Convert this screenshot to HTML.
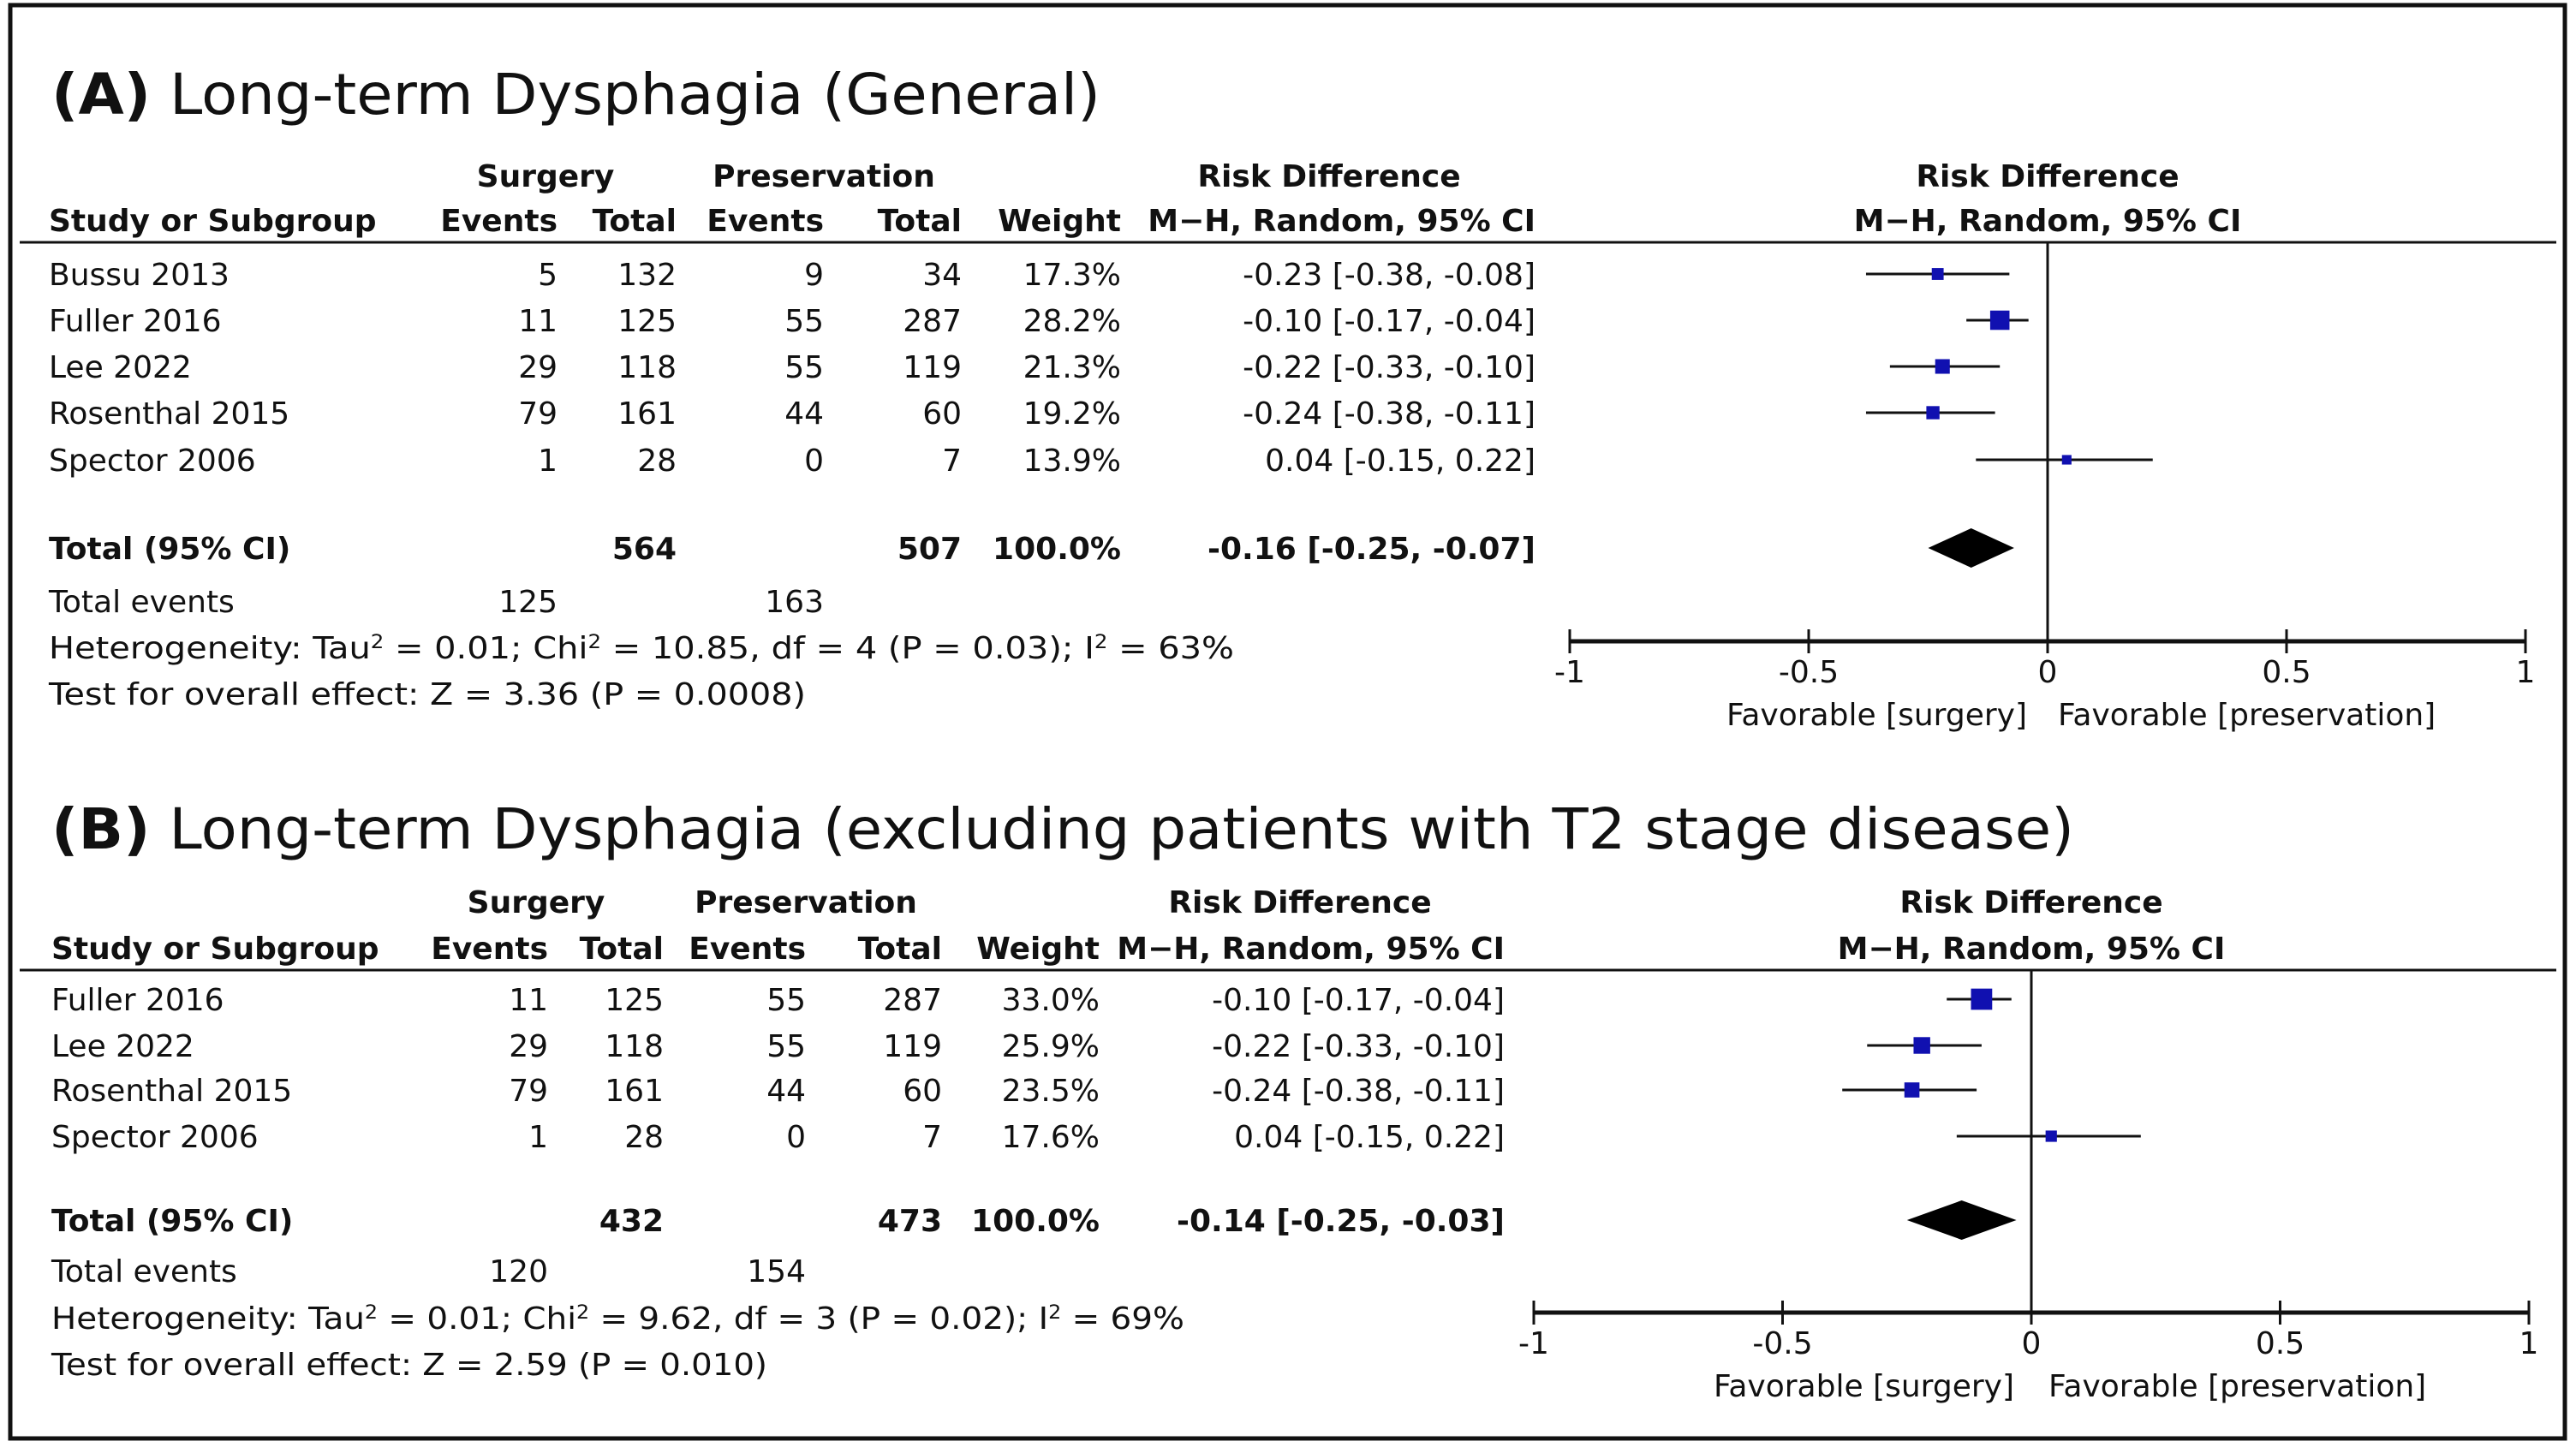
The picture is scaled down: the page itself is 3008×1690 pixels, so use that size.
<!DOCTYPE html>
<html><head><meta charset="utf-8"><style>
html,body{margin:0;padding:0;background:#fff;}
svg{display:block;}
text{font-family:"DejaVu Sans","Liberation Sans",sans-serif;fill:#111;}
.b{font-weight:bold;}
</style></head><body>
<svg id="fig" width="3008" height="1690" viewBox="0 0 3008 1690" xmlns="http://www.w3.org/2000/svg">
<rect x="12" y="6" width="2983" height="1674" fill="#fff" stroke="#111" stroke-width="5"/>
<g id="gA"></g>
<g id="gB"></g>
</svg>
<script>
// ---- Panel A data ----
const studiesA = ["Bussu 2013","Fuller 2016","Lee 2022","Rosenthal 2015","Spector 2006"];
const surgEventsA = [5,11,29,79,1];
const surgTotalA = [132,125,118,161,28];
const presEventsA = [9,55,55,44,0];
const presTotalA = [34,287,119,60,7];
const weightA = [17.3,28.2,21.3,19.2,13.9];
const rdA = [-0.23,-0.10,-0.22,-0.24,0.04];
const loA = [-0.38,-0.17,-0.33,-0.38,-0.15];
const hiA = [-0.08,-0.04,-0.10,-0.11,0.22];
const totalA = {est:-0.16, lo:-0.25, hi:-0.07, surgTotal:564, presTotal:507, surgEv:125, presEv:163};
// ---- Panel B data ----
const studiesB = ["Fuller 2016","Lee 2022","Rosenthal 2015","Spector 2006"];
const surgEventsB = [11,29,79,1];
const surgTotalB = [125,118,161,28];
const presEventsB = [55,55,44,0];
const presTotalB = [287,119,60,7];
const weightB = [33.0,25.9,23.5,17.6];
const rdB = [-0.10,-0.22,-0.24,0.04];
const loB = [-0.17,-0.33,-0.38,-0.15];
const hiB = [-0.04,-0.10,-0.11,0.22];
const totalB = {est:-0.14, lo:-0.25, hi:-0.03, surgTotal:432, presTotal:473, surgEv:120, presEv:154};
const tickVals = [-1,-0.5,0,0.5,1];
const tickLabels = ["-1","-0.5","0","0.5","1"];

const NS="http://www.w3.org/2000/svg";
function mk(parent,tag,attrs,txt){const e=document.createElementNS(NS,tag);for(const k in attrs)e.setAttribute(k,attrs[k]);if(txt!==undefined)e.textContent=txt;parent.appendChild(e);return e;}
function fmt(v){return (v<0?"-":"")+Math.abs(v).toFixed(2);}
function ci(e,l,h){return fmt(e)+" ["+fmt(l)+", "+fmt(h)+"]";}

function drawPanel(g,L,d){
  const xs=v=>L.zero+v*L.unit;
  const FS=36, off=13;
  let t;
  t=mk(g,'text',{x:L.titleX,y:L.titleY,'font-size':66,textLength:L.titleW,lengthAdjust:'spacingAndGlyphs'});
  
  
  const tb=mk(t,'tspan',{'font-weight':'bold'},L.tag);
  mk(t,'tspan',{},L.title);
  // headers
  const h1=[["Surgery",L.cSurgC],["Preservation",L.cPresC],["Risk Difference",L.cRDC],["Risk Difference",L.zero]];
  h1.forEach(h=>{t=mk(g,'text',{x:h[1],y:L.h1+off,'font-size':FS,'text-anchor':'middle',class:'b'},h[0]);
    
    });
  t=mk(g,'text',{x:L.cStudy,y:L.h2+off,'font-size':FS,class:'b'},"Study or Subgroup");
  
  
  const h2=[["Events",L.cSE],["Total",L.cST],["Events",L.cPE],["Total",L.cPT],["Weight",L.cW]];
  h2.forEach(h=>{t=mk(g,'text',{x:h[1],y:L.h2+off,'font-size':FS,'text-anchor':'end',class:'b'},h[0]);
    
    });
  t=mk(g,'text',{x:L.cCI,y:L.h2+off,'font-size':FS,'text-anchor':'end',class:'b'},"M\u2212H, Random, 95% CI");
  
  
  t=mk(g,'text',{x:L.zero,y:L.h2+off,'font-size':FS,'text-anchor':'middle',class:'b'},"M\u2212H, Random, 95% CI");
  
  
  let ln=mk(g,'line',{x1:23,x2:2985,y1:L.hline,y2:L.hline,stroke:'#111','stroke-width':3});
  
  
  // zero line
  ln=mk(g,'line',{x1:xs(0),x2:xs(0),y1:L.hline,y2:L.axisY,stroke:'#111','stroke-width':3});
  
  
  // rows
  d.studies.forEach((s,i)=>{
    const y=L.rows[i];
    const vals=[[s,L.cStudy,'start'],[d.se[i],L.cSE,'end'],[d.st[i],L.cST,'end'],[d.pe[i],L.cPE,'end'],[d.pt[i],L.cPT,'end'],[d.w[i].toFixed(1)+"%",L.cW,'end'],[ci(d.rd[i],d.lo[i],d.hi[i]),L.cCI,'end']];
    vals.forEach(v=>{const tt=mk(g,'text',{x:v[1],y:y+off,'font-size':FS,'text-anchor':v[2]},v[0]);
      
      });
    const c=mk(g,'line',{x1:xs(d.lo[i]),x2:xs(d.hi[i]),y1:y,y2:y,stroke:'#111','stroke-width':3});
    
    
    const sz=d.w[i]*L.sq;
    const r=mk(g,'rect',{x:xs(d.rd[i])-sz/2,y:y-sz/2,width:sz,height:sz,fill:'#1010b0'});
    
    
  });
  // total row
  const T=d.total;
  [["Total (95% CI)",L.cStudy,'start'],[T.surgTotal,L.cST,'end'],[T.presTotal,L.cPT,'end'],["100.0%",L.cW,'end'],[ci(T.est,T.lo,T.hi),L.cCI,'end']].forEach(v=>{
    const tt=mk(g,'text',{x:v[1],y:L.totY+off,'font-size':FS,'text-anchor':v[2],class:'b'},v[0]);
    
    });
  const dm=mk(g,'polygon',{points:`${xs(T.lo)},${L.totY} ${xs(T.est)},${L.totY-23} ${xs(T.hi)},${L.totY} ${xs(T.est)},${L.totY+23}`,fill:'#000'});
  
  
  [["Total events",L.cStudy,'start'],[T.surgEv,L.cSE,'end'],[T.presEv,L.cPE,'end']].forEach(v=>{
    const tt=mk(g,'text',{x:v[1],y:L.evY+off,'font-size':FS,'text-anchor':v[2]},v[0]);
    
    });
  // heterogeneity
  t=mk(g,'text',{x:L.cStudy,y:L.hetY+off,'font-size':FS,textLength:L.hetW,lengthAdjust:'spacingAndGlyphs'});
  
  
  mk(t,'tspan',{},"Heterogeneity: Tau");
  mk(t,'tspan',{dy:-12,'font-size':22},"2");
  mk(t,'tspan',{dy:12},L.het1);
  mk(t,'tspan',{dy:-12,'font-size':22},"2");
  mk(t,'tspan',{dy:12},L.het2);
  mk(t,'tspan',{dy:-12,'font-size':22},"2");
  mk(t,'tspan',{dy:12},L.het3);
  t=mk(g,'text',{x:L.cStudy,y:L.testY+off,'font-size':FS,textLength:L.testW,lengthAdjust:'spacingAndGlyphs'},L.test);
  
  
  // axis
  ln=mk(g,'line',{x1:xs(-1),x2:xs(1),y1:L.axisY,y2:L.axisY,stroke:'#111','stroke-width':5});
  
  
  tickVals.forEach((v,i)=>{
    const tk=mk(g,'line',{x1:xs(v),x2:xs(v),y1:L.axisY-14,y2:L.axisY+14,stroke:'#111','stroke-width':3});
    
    
    const tl=mk(g,'text',{x:xs(v),y:L.axisY+48,'font-size':FS,'text-anchor':'middle'},tickLabels[i]);
    
    
  });
  t=mk(g,'text',{x:L.favL,y:L.axisY+98,'font-size':FS,'text-anchor':'end'},"Favorable [surgery]");
  
  
  t=mk(g,'text',{x:L.favR,y:L.axisY+98,'font-size':FS},"Favorable [preservation]");
  
  
}

drawPanel(document.getElementById('gA'),{
  tag:"(A)",title:" Long-term Dysphagia (General)",titleX:60,titleY:133,titleW:1225,
  zero:2391,unit:558,h1:205,h2:257,hline:283,rows:[320,374,428,482,537],totY:640,evY:702,hetY:756,testY:810,axisY:749,
  cStudy:57,cSE:651,cST:790,cPE:962,cPT:1123,cW:1309,cCI:1793,cSurgC:637,cPresC:962,cRDC:1552,
  sq:0.8,hetW:1384,testW:884,favL:2367,favR:2403,
  het1:" = 0.01; Chi",het2:" = 10.85, df = 4 (P = 0.03); I",het3:" = 63%",test:"Test for overall effect: Z = 3.36 (P = 0.0008)"
},{studies:studiesA,se:surgEventsA,st:surgTotalA,pe:presEventsA,pt:presTotalA,w:weightA,rd:rdA,lo:loA,hi:hiA,total:totalA});

drawPanel(document.getElementById('gB'),{
  tag:"(B)",title:" Long-term Dysphagia (excluding patients with T2 stage disease)",titleX:60,titleY:991,titleW:2362,
  zero:2372,unit:581,h1:1053,h2:1107,hline:1133,rows:[1167,1221,1273,1327],totY:1425,evY:1484,hetY:1539,testY:1593,axisY:1533,
  cStudy:60,cSE:640,cST:775,cPE:941,cPT:1100,cW:1284,cCI:1757,cSurgC:626,cPresC:941,cRDC:1518,
  sq:0.75,hetW:1323,testW:836,favL:2352,favR:2392,
  het1:" = 0.01; Chi",het2:" = 9.62, df = 3 (P = 0.02); I",het3:" = 69%",test:"Test for overall effect: Z = 2.59 (P = 0.010)"
},{studies:studiesB,se:surgEventsB,st:surgTotalB,pe:presEventsB,pt:presTotalB,w:weightB,rd:rdB,lo:loB,hi:hiB,total:totalB});
</script>
</body></html>
